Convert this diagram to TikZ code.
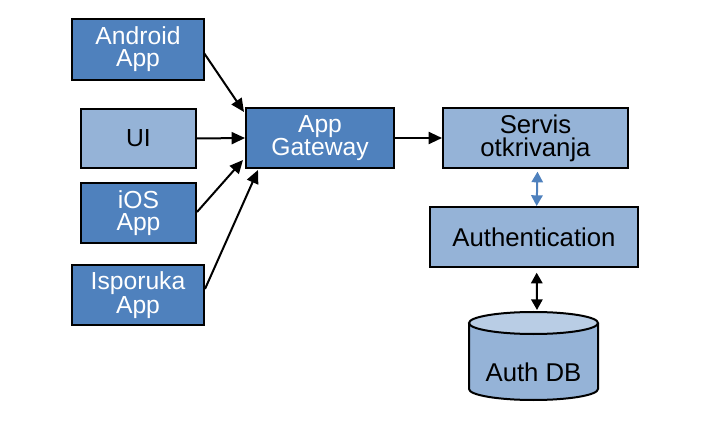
\documentclass[tikz,border=0pt]{standalone}
\usepackage{fontspec}
\setmainfont{Liberation Sans}
\usetikzlibrary{arrows.meta}
\definecolor{dkblue}{HTML}{4F81BD}
\definecolor{ltblue}{HTML}{95B3D7}
\definecolor{topblue}{HTML}{B9CDE5}
\begin{document}
\begin{tikzpicture}[x=0.75pt,y=-0.75pt,
  base/.style={draw=black, line width=1.5pt, inner sep=0pt, align=center,
    font=\fontsize{18.5pt}{16.5pt}\selectfont},
  rbase/.style={base, font=\fontsize{19.3pt}{17.25pt}\selectfont},
  dark/.style={base, fill=dkblue, text=white},
  light/.style={base, fill=ltblue, text=black},
  rlight/.style={rbase, fill=ltblue, text=black},
  conn/.style={line width=1.5pt, -{Triangle[length=10pt,width=9pt]}},
  dbl/.style={line width=1.5pt, {Triangle[length=8pt,width=8.5pt]}-{Triangle[length=8pt,width=8.5pt]}}
]
\useasboundingbox (0,0) rectangle (721,438);
\node[dark, minimum width=99pt, minimum height=45.75pt] (android) at (138,49.5) {Android\\App};
\node[light, minimum width=86.25pt, minimum height=44.25pt] (ui) at (138.5,138.5) {UI};
\node[dark, minimum width=86.25pt, minimum height=45pt] (ios) at (138.5,213) {iOS\\App};
\node[dark, minimum width=99pt, minimum height=45pt] (isp) at (138,295) {Isporuka\\App};
\node[dark, minimum width=111pt, minimum height=45pt] (gw) at (320,138) {App\\Gateway};
\node[rlight, minimum width=138.75pt, minimum height=45pt] (servis) at (535.5,138) {Servis\\otkrivanja};
\node[rlight, minimum width=156pt, minimum height=45pt] (auth) at (534,237) {Authentication};
% cylinder
\draw[line width=1.5pt, fill=ltblue] (469,323) -- (469,389) arc[start angle=180, end angle=0, x radius=64.5, y radius=11] -- (598,323);
\draw[line width=1.5pt, fill=topblue] (533.5,323) ellipse[x radius=64.5, y radius=11];
\node[rbase, draw=none, text=black] (db) at (533.5,372) {Auth DB};
\coordinate (dbtop) at (537,310);
\coordinate (t1) at (244,112);
\coordinate (t3) at (243,160);
\coordinate (t4) at (258,170);
\coordinate (s1) at (204,53);
\coordinate (s3) at (197,212);
\coordinate (s4) at (205,289);
\draw[conn] (s1) -- (t1);
\draw[conn] (ui.east) -- (gw.west);
\draw[conn] (s3) -- (t3);
\draw[conn] (s4) -- (t4);
\draw[conn] (gw.east) -- (servis.west);
\draw[dbl, draw=dkblue, fill=dkblue] ([xshift=1.5pt,yshift=-2pt]servis.south) -- ([xshift=2pt,yshift=0pt]auth.north);
\draw[dbl] ([xshift=2pt,yshift=-3.5pt]auth.south) -- (dbtop);
\end{tikzpicture}
\end{document}
